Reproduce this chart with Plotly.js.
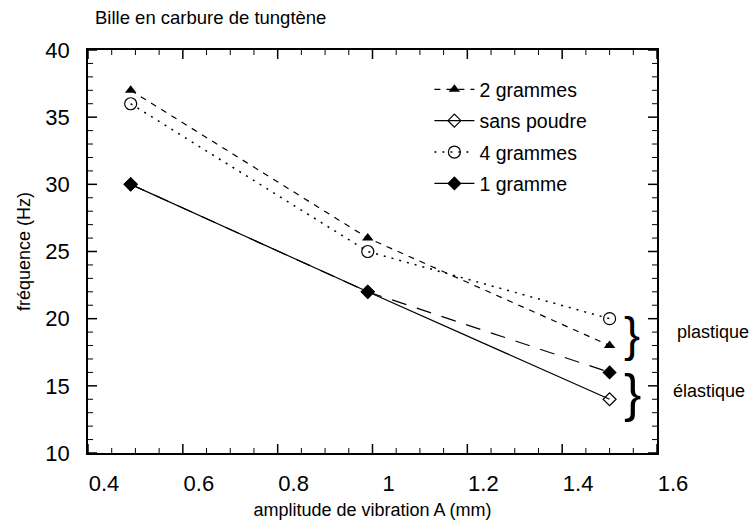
<!DOCTYPE html>
<html>
<head>
<meta charset="utf-8">
<script src="https://cdn.plot.ly/plotly-3.0.1.min.js"></script>
<style>html,body{margin:0;padding:0;background:#fff;}#chart{width:751px;height:520px;}</style>
</head>
<body>
<div id="chart"></div>
<script>
// Data
const amplitude = [0.49, 0.99, 1.5];
const freq2g = [37, 26, 18];
const freqSans = [30, 22, 14];
const freq4g = [36, 25, 20];
const freq1g = [30, 22, 16];
const seriesNames = ['2 grammes', 'sans poudre', '4 grammes', '1 gramme'];
const xMajorTicks = [0.4, 0.6, 0.8, 1.0, 1.2, 1.4, 1.6];
const yMajorTicks = [10, 15, 20, 25, 30, 35, 40];

const font = 'Liberation Sans, Arial, Helvetica, sans-serif';
const xRange = [0.4, 1.6];
const yRange = [10, 40];

const traces = [
  {x: amplitude, y: freq2g, name: seriesNames[0], mode: 'lines+markers', legendgroup: 'a',
   line: {color: '#000', width: 1.2, dash: '6px,6px'},
   marker: {symbol: 'triangle-up', size: 10, color: '#000'}},
  {x: amplitude, y: freqSans, name: seriesNames[1], mode: 'lines+markers', legendgroup: 'b',
   line: {color: '#000', width: 1.2},
   marker: {symbol: 'diamond-open', size: 10, color: '#000', line: {width: 1.2}}},
  {x: amplitude, y: freq4g, name: seriesNames[2], mode: 'lines+markers', legendgroup: 'c',
   line: {color: '#000', width: 1.5, dash: '2px,6px'},
   marker: {symbol: 'circle-open', size: 12, color: '#000', line: {width: 1.2}}},
  {x: amplitude, y: freq1g, name: seriesNames[3], mode: 'lines+markers', legendgroup: 'd',
   line: {color: '#000', width: 1.2, dash: '15px,11px'},
   marker: {symbol: 'diamond', size: 11, color: '#000'}}
];

// Inward tick marks on all four sides, placed in axis coordinates
const tickShapes = [];
function addXTick(v, len, w) {
  tickShapes.push({type: 'line', xref: 'x', yref: 'paper', ysizemode: 'pixel', yanchor: 0,
    x0: v, x1: v, y0: 0, y1: len, line: {color: '#000', width: w}});
  tickShapes.push({type: 'line', xref: 'x', yref: 'paper', ysizemode: 'pixel', yanchor: 1,
    x0: v, x1: v, y0: 0, y1: -len, line: {color: '#000', width: w}});
}
function addYTick(v, len, w) {
  tickShapes.push({type: 'line', xref: 'paper', yref: 'y', xsizemode: 'pixel', xanchor: 0,
    y0: v, y1: v, x0: 0, x1: len, line: {color: '#000', width: w}});
  tickShapes.push({type: 'line', xref: 'paper', yref: 'y', xsizemode: 'pixel', xanchor: 1,
    y0: v, y1: v, x0: 0, x1: -len, line: {color: '#000', width: w}});
}
for (let i = 0; i < xMajorTicks.length; i++) {
  addXTick(xMajorTicks[i], 9, 1.5);
  if (i < xMajorTicks.length - 1) {
    for (let k = 1; k < 4; k++) addXTick(xMajorTicks[i] + k * 0.05, 5, 1);
  }
}
for (let i = 0; i < yMajorTicks.length; i++) {
  addYTick(yMajorTicks[i], 9, 1.5);
  if (i < yMajorTicks.length - 1) {
    for (let k = 1; k < 5; k++) addYTick(yMajorTicks[i] + k, 5, 1);
  }
}

const layout = {
  width: 751, height: 520,
  margin: {l: 88, r: 94, t: 50, b: 67},
  paper_bgcolor: '#ffffff', plot_bgcolor: '#ffffff',
  font: {family: font, color: '#000', size: 15},
  title: {text: 'Bille en carbure de tungtène', font: {family: font, size: 18.5, color: '#000'},
          x: 95/751, xref: 'container', xanchor: 'left', y: 1 - 18/520, yref: 'container', yanchor: 'middle'},
  showlegend: true,
  legend: {x: 0.6, y: 0.95, xanchor: 'left', yanchor: 'top', bgcolor: 'rgba(0,0,0,0)',
           font: {family: font, size: 19.5, color: '#000'}, tracegroupgap: 3, itemwidth: 40},
  xaxis: {range: xRange, tickmode: 'array', tickvals: xMajorTicks,
          ticktext: xMajorTicks.map(v => String(+v.toFixed(1))), ticks: '',
          showline: true, linewidth: 1.5, linecolor: '#000', mirror: true,
          showgrid: false, zeroline: false, tickfont: {size: 22, family: font},
          ticklabelshift: 16, ticklabelstandoff: 10,
          title: {text: 'amplitude de vibration A (mm)', font: {size: 18, family: font}, standoff: 8}},
  yaxis: {range: yRange, tickmode: 'array', tickvals: yMajorTicks, ticks: '',
          showline: true, linewidth: 1.5, linecolor: '#000', mirror: true,
          showgrid: false, zeroline: false, tickfont: {size: 22, family: font},
          ticklabelstandoff: 12,
          title: {text: 'fréquence (Hz)', font: {size: 18, family: font}, standoff: 10}},
  shapes: tickShapes,
  annotations: [
    {text: '}', xref: 'paper', yref: 'y', x: (632-88)/569, y: 18.8, showarrow: false,
     font: {size: 48, family: font, color: '#000'}, xanchor: 'center', yanchor: 'middle'},
    {text: '}', xref: 'paper', yref: 'y', x: (632-88)/569, y: 14.5, showarrow: false,
     font: {size: 52, family: font, color: '#000'}, xanchor: 'center', yanchor: 'middle'},
    {text: 'plastique', xref: 'paper', yref: 'y', x: (675-88)/569, y: 19, showarrow: false,
     font: {size: 18, family: font, color: '#000'}, xanchor: 'left', yanchor: 'middle'},
    {text: 'élastique', xref: 'paper', yref: 'y', x: (671-88)/569, y: 14.6, showarrow: false,
     font: {size: 18, family: font, color: '#000'}, xanchor: 'left', yanchor: 'middle'}
  ]
};

Plotly.newPlot('chart', traces, layout, {displayModeBar: false});
</script>
</body>
</html>
